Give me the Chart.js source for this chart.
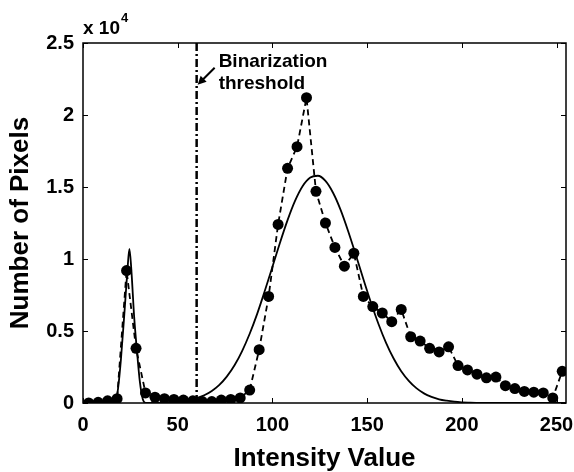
<!DOCTYPE html>
<html>
<head>
<meta charset="utf-8">
<script src="https://cdn.jsdelivr.net/npm/chart.js@4.4.0/dist/chart.umd.min.js"></script>
<style>
  html, body { margin: 0; padding: 0; background: #fff; }
  #wrap { width: 574px; height: 472px; position: relative; }
</style>
</head>
<body>
<div id="wrap"><canvas id="chart" width="574" height="472"></canvas></div>
<script>
// Histogram samples (intensity, count in units of 1e4)
const histX = [3, 8, 13, 18, 23, 28, 33, 38, 43, 48, 53, 58, 63, 68, 73, 78, 83, 88, 93, 98,
  103, 108, 113, 118, 123, 128, 133, 138, 143, 148, 153, 158, 163, 168, 173, 178, 183, 188, 193, 198,
  203, 208, 213, 218, 223, 228, 233, 238, 243, 248, 253];
const histY = [0.0, 0.005, 0.015, 0.03, 0.92, 0.38, 0.07, 0.04, 0.03, 0.025, 0.02, 0.015, 0.01, 0.01, 0.02, 0.025, 0.035, 0.09, 0.37, 0.74,
  1.24, 1.63, 1.78, 2.12, 1.47, 1.25, 1.08, 0.95, 1.04, 0.74, 0.67, 0.625, 0.565, 0.65, 0.46, 0.43, 0.38, 0.355, 0.39, 0.26,
  0.23, 0.20, 0.175, 0.18, 0.12, 0.10, 0.08, 0.075, 0.07, 0.035, 0.22];

// Fitted curve
const fitX = [0, 10, 17, 18.5, 20, 22, 23.5, 24.5, 25.5, 27, 28.5, 30, 31.5, 33, 40, 48,
  52, 56, 60, 64, 68, 72, 76, 80, 84, 88, 92, 96, 100, 104, 108, 112, 116, 120, 124, 128,
  132, 136, 140, 144, 148, 152, 156, 160, 164, 168, 172, 176, 180, 184, 188, 192, 196, 200, 204, 210, 230, 255];
const fitY = [0, 0, 0, 0.1, 0.3, 0.65, 0.93, 1.07, 0.93, 0.6, 0.36, 0.15, 0.03, 0, 0, 0.005,
  0.012, 0.02, 0.034, 0.054, 0.084, 0.126, 0.185, 0.262, 0.361, 0.481, 0.621, 0.779, 0.945, 1.113, 1.27, 1.405, 1.507, 1.566, 1.578, 1.542,
  1.46, 1.341, 1.193, 1.03, 0.861, 0.698, 0.549, 0.418, 0.309, 0.221, 0.154, 0.103, 0.067, 0.043, 0.026, 0.016, 0.009, 0.005, 0.003, 0.001, 0, 0];

const thresholdX = 60;
const xTicks = [0, 50, 100, 150, 200, 250];
const yTicks = [0, 0.5, 1, 1.5, 2, 2.5];

const FONT = '"Liberation Sans", Arial, sans-serif';

const toPoints = (xs, ys) => xs.map((x, i) => ({ x, y: ys[i] }));

// Box, inward ticks, exponent label and the threshold annotation
const framePlugin = {
  id: 'frame',
  afterDraw(chart) {
    const { ctx, chartArea: a, scales: { x, y } } = chart;
    ctx.save();
    ctx.strokeStyle = '#000';
    ctx.lineWidth = 1.5;
    ctx.strokeRect(a.left, a.top, a.right - a.left, a.bottom - a.top);
    ctx.lineWidth = 1;
    ctx.beginPath();
    xTicks.forEach(v => {
      const px = Math.round(x.getPixelForValue(v)) + 0.5;
      ctx.moveTo(px, a.bottom); ctx.lineTo(px, a.bottom - 5);
      ctx.moveTo(px, a.top); ctx.lineTo(px, a.top + 5);
    });
    yTicks.forEach(v => {
      const py = Math.round(y.getPixelForValue(v)) + 0.5;
      ctx.moveTo(a.left, py); ctx.lineTo(a.left + 5, py);
      ctx.moveTo(a.right, py); ctx.lineTo(a.right - 5, py);
    });
    ctx.stroke();

    // x 10^4
    ctx.fillStyle = '#000';
    ctx.textBaseline = 'alphabetic';
    ctx.font = 'bold 19px ' + FONT;
    ctx.fillText('x 10', a.left, a.top - 9);
    const w = ctx.measureText('x 10').width;
    ctx.font = 'bold 13px ' + FONT;
    ctx.fillText('4', a.left + w + 1, a.top - 21);

    // arrow + label
    const tx = x.getPixelForValue(thresholdX) + 1;
    const ty = y.getPixelForValue(2.21);
    ctx.lineWidth = 2;
    ctx.beginPath();
    ctx.moveTo(tx + 17, ty - 17);
    ctx.lineTo(tx + 4, ty - 4);
    ctx.stroke();
    ctx.beginPath();
    ctx.moveTo(tx, ty);
    ctx.lineTo(tx + 9, ty - 3);
    ctx.lineTo(tx + 3, ty - 9);
    ctx.closePath();
    ctx.fill();
    ctx.font = 'bold 19px ' + FONT;
    ctx.fillText('Binarization', tx + 21, ty - 18);
    ctx.fillText('threshold', tx + 21, ty + 4);
    ctx.restore();
  }
};

new Chart(document.getElementById('chart'), {
  type: 'scatter',
  data: {
    datasets: [
      {
        label: 'threshold',
        data: [{ x: thresholdX, y: 0 }, { x: thresholdX, y: 2.5 }],
        showLine: true,
        borderColor: '#000',
        borderWidth: 2.5,
        borderDash: [8, 3, 2, 3],
        pointRadius: 0
      },
      {
        label: 'histogram',
        data: toPoints(histX, histY),
        showLine: true,
        borderColor: '#000',
        borderWidth: 1.8,
        borderDash: [6, 4],
        pointRadius: 5.5,
        pointBackgroundColor: '#000',
        pointBorderColor: '#000',
        pointBorderWidth: 0
      },
      {
        label: 'fit',
        data: toPoints(fitX, fitY),
        showLine: true,
        borderColor: '#000',
        borderWidth: 1.8,
        cubicInterpolationMode: 'monotone',
        pointRadius: 0
      }
    ]
  },
  options: {
    responsive: false,
    animation: false,
    layout: { padding: { top: 43, right: 8, left: 0, bottom: 0 } },
    plugins: { legend: { display: false }, tooltip: { enabled: false } },
    scales: {
      x: {
        type: 'linear',
        min: 0, max: 255,
        afterBuildTicks: s => { s.ticks = xTicks.map(v => ({ value: v })); },
        afterFit: s => { s.height = 69; s.paddingLeft = 0; s.paddingRight = 0; },
        grid: { display: false, drawTicks: false },
        border: { display: false },
        ticks: { color: '#000', font: { family: FONT, size: 20, weight: 'bold' }, padding: 10, maxRotation: 0 },
        title: { display: true, text: 'Intensity Value', color: '#000',
          font: { family: FONT, size: 26, weight: 'bold', lineHeight: 1 }, padding: { top: 0, bottom: 0 } }
      },
      y: {
        min: 0, max: 2.5,
        afterBuildTicks: s => { s.ticks = yTicks.map(v => ({ value: v })); },
        afterFit: s => { s.width = 83; s.paddingTop = 0; s.paddingBottom = 0; },
        grid: { display: false, drawTicks: false },
        border: { display: false },
        ticks: { color: '#000', font: { family: FONT, size: 20, weight: 'bold' }, padding: 9, callback: v => String(v) },
        title: { display: true, text: 'Number of Pixels', color: '#000',
          font: { family: FONT, size: 26, weight: 'bold', lineHeight: 1 }, padding: { top: 8, bottom: 0 } }
      }
    }
  },
  plugins: [framePlugin]
});
</script>
</body>
</html>
